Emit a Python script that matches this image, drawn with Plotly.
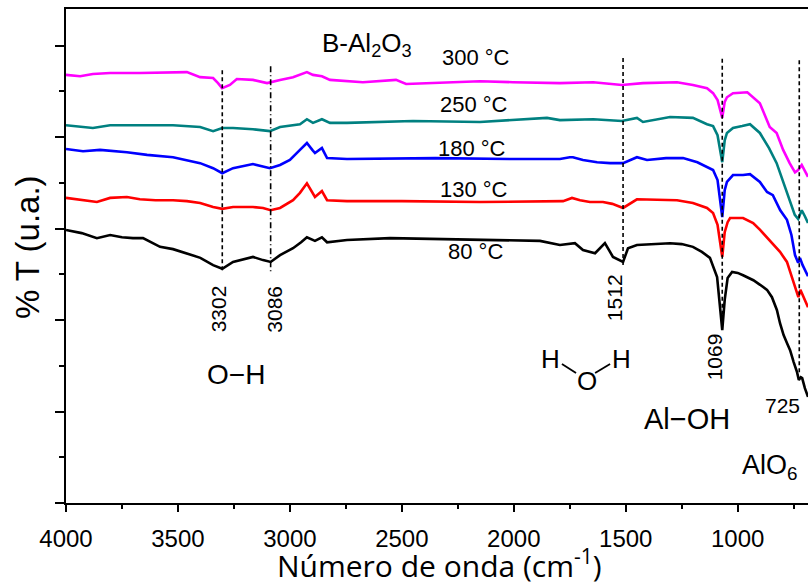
import plotly.graph_objects as go

# FTIR spectra of B-Al2O3 dried at different temperatures (offset, arbitrary units)
wn_80 = [4000, 3930, 3862, 3803, 3750, 3701, 3656, 3580, 3522, 3460, 3400, 3343, 3302, 3254, 3165,
         3120, 3086, 3044, 2986, 2950, 2924, 2888, 2857, 2834, 2745, 2553, 2350, 2151, 2000, 1883,
         1794, 1760, 1727, 1691, 1637, 1593, 1557, 1512, 1490, 1450, 1380, 1302, 1250, 1200, 1160,
         1124, 1092, 1069, 1058, 1045, 1025, 1000, 976, 930, 900, 869, 847, 825, 811, 795,
         780, 766, 750, 735, 727, 718, 712, 700, 686]
t_80 = [59.7, 59.0, 57.9, 58.6, 58.1, 57.9, 57.9, 56.0, 55.5, 54.6, 53.6, 52.0, 51.2, 52.7, 53.8,
        53.1, 52.7, 54.2, 55.7, 57.0, 58.1, 57.3, 58.1, 57.0, 57.5, 57.9, 57.7, 57.5, 57.5, 57.3,
        56.4, 56.6, 56.8, 55.3, 54.6, 56.8, 53.8, 52.7, 55.7, 56.4, 56.6, 56.8, 56.6, 56.0, 54.9,
        53.6, 49.4, 37.8, 44.4, 49.2, 50.5, 50.3, 49.8, 48.7, 47.7, 46.6, 45.0, 42.2, 39.3, 36.7,
        35.0, 33.4, 30.8, 28.6, 26.9, 27.5, 27.3, 25.1, 23.2]

wn_130 = [4000, 3930, 3862, 3803, 3728, 3670, 3600, 3522, 3460, 3401, 3343, 3302, 3254, 3165, 3120,
          3086, 3044, 2986, 2955, 2924, 2888, 2857, 2834, 2745, 2500, 2151, 1900, 1780, 1740, 1704,
          1660, 1602, 1560, 1512, 1450, 1350, 1271, 1200, 1137, 1110, 1090, 1069, 1058, 1045, 1034,
          976, 931, 900, 869, 826, 811, 780, 768, 744, 729, 720, 700, 686]
t_130 = [66.7, 66.2, 65.8, 66.7, 66.9, 66.4, 66.2, 66.2, 66.0, 65.6, 64.7, 64.3, 64.7, 64.7, 64.5,
         64.0, 64.5, 66.2, 67.8, 69.9, 66.9, 68.2, 66.2, 66.0, 66.0, 65.8, 66.0, 66.0, 66.7, 66.2,
         65.8, 65.8, 65.4, 64.5, 66.4, 66.2, 66.2, 65.6, 64.5, 63.4, 60.8, 53.8, 59.2, 61.4, 62.3,
         62.3, 61.2, 59.7, 58.1, 55.7, 54.9, 52.7, 50.9, 47.0, 45.0, 46.6, 44.4, 42.8]

wn_180 = [4000, 3924, 3848, 3728, 3638, 3522, 3401, 3343, 3302, 3254, 3165, 3089, 3044, 3000, 2955,
          2924, 2900, 2888, 2857, 2834, 2745, 2350, 2000, 1794, 1750, 1736, 1691, 1628, 1570, 1512,
          1450, 1405, 1320, 1244, 1180, 1137, 1110, 1090, 1069, 1058, 1048, 1021, 976, 945, 901,
          869, 843, 810, 780, 760, 744, 730, 722, 710, 700, 686]
t_180 = [77.4, 76.9, 77.2, 76.7, 76.1, 75.6, 74.3, 73.2, 72.1, 73.2, 74.1, 73.2, 73.9, 75.0, 77.2,
         78.7, 77.2, 76.5, 77.6, 75.4, 75.2, 75.4, 75.2, 75.2, 75.6, 75.6, 75.0, 74.5, 74.3, 74.3,
         75.6, 75.0, 75.4, 75.4, 74.5, 73.4, 72.8, 70.6, 62.5, 68.4, 70.2, 71.7, 71.7, 71.9, 70.2,
         68.0, 67.3, 64.0, 61.9, 58.6, 54.2, 52.5, 53.6, 52.0, 50.9, 49.6]

wn_250 = [4000, 3893, 3880, 3803, 3650, 3522, 3401, 3343, 3302, 3254, 3165, 3089, 3044, 2986, 2955,
          2924, 2897, 2857, 2821, 2745, 2450, 2151, 1852, 1794, 1645, 1517, 1450, 1423, 1302, 1200,
          1137, 1110, 1090, 1069, 1058, 1048, 1021, 980, 945, 901, 860, 826, 800, 768, 745,
          730, 714, 700, 686]
t_250 = [82.6, 82.2, 82.0, 82.6, 82.6, 82.6, 82.2, 81.3, 82.0, 82.0, 81.7, 81.3, 82.2, 82.6, 82.8,
         83.9, 83.1, 83.9, 83.1, 83.1, 83.5, 83.3, 84.2, 83.7, 83.9, 83.5, 84.2, 83.3, 84.4, 84.2,
         82.8, 82.4, 80.4, 74.5, 79.3, 80.9, 82.0, 82.4, 82.8, 80.9, 77.6, 74.3, 70.6, 66.2, 63.0,
         62.1, 64.0, 62.7, 61.2]

wn_300 = [4000, 3937, 3880, 3803, 3670, 3522, 3460, 3401, 3343, 3321, 3303, 3268, 3237, 3165, 3102,
          3044, 2986, 2924, 2897, 2857, 2821, 2674, 2526, 2481, 2299, 2151, 2004, 1794, 1645, 1517,
          1423, 1271, 1200, 1137, 1110, 1090, 1069, 1058, 1048, 1021, 957, 931, 901, 857, 826,
          797, 768, 744, 730, 714, 700, 686]
t_300 = [93.6, 93.3, 93.8, 94.0, 94.0, 94.2, 94.2, 93.1, 92.9, 91.8, 90.7, 91.4, 92.7, 92.5, 91.8,
         92.5, 93.1, 94.2, 93.6, 93.3, 92.5, 92.0, 92.5, 91.6, 92.0, 92.2, 92.0, 91.8, 92.0, 91.4,
         91.8, 92.0, 91.4, 90.7, 89.6, 88.1, 84.2, 87.7, 88.7, 89.6, 89.8, 88.7, 87.4, 82.2, 80.9,
         77.2, 74.3, 72.3, 72.8, 73.9, 72.6, 71.3]

series = [
    ("80 °C", wn_80, t_80, "#000000"),
    ("130 °C", wn_130, t_130, "#FF0000"),
    ("180 °C", wn_180, t_180, "#0000FF"),
    ("250 °C", wn_250, t_250, "#008080"),
    ("300 °C", wn_300, t_300, "#FF00FF"),
]

# temperature labels (wavenumber, height)
temp_label_x = [2169, 2178, 2187, 2178, 2169]
temp_label_y = [54.9, 68.6, 77.6, 87.2, 97.5]

# band markers
peak_wn = [3302, 3086, 1512, 1069, 725]
peak_top = [94.6, 95.5, 97.3, 97.1, 96.8]
peak_bottom = [50.5, 50.3, 51.4, 37.8, 28.0]
peak_dash = ["4px,3px", "6px,3px,1px,3px", "4px,3px", "4px,3px", "4px,3px"]
peak_label_y = [42.4, 42.4, 44.8, 31.9, 21.4]
peak_label_shift = [-4, 3, -9, -8, -17]
peak_label_angle = [-90, -90, -90, -90, 0]

# water molecule sketch
water_atoms = ["H", "O", "H"]
water_x = [1834, 1673, 1521]
water_y = [31.5, 26.7, 31.5]
bond_x = [1785, 1722, None, 1637, 1570]
bond_y = [30.4, 28.4, None, 28.4, 30.4]

FONT = "Liberation Sans, Arial, sans-serif"

fig = go.Figure()

for name, wn, t, color in series:
    fig.add_trace(go.Scatter(x=wn, y=t, mode="lines", name=name,
                             line=dict(color=color, width=2.6)))

for wn, top, bot, dash in zip(peak_wn, peak_top, peak_bottom, peak_dash):
    fig.add_trace(go.Scatter(x=[wn, wn], y=[top, bot], mode="lines",
                             line=dict(color="black", width=1.6, dash=dash),
                             hoverinfo="skip"))

fig.add_trace(go.Scatter(x=bond_x, y=bond_y, mode="lines",
                         line=dict(color="black", width=1.8), hoverinfo="skip"))

annotations = []
for (name, _, _, _), lx, ly in zip(series, temp_label_x, temp_label_y):
    annotations.append(dict(x=lx, y=ly, text=name, showarrow=False,
                            xanchor="center", yanchor="middle",
                            font=dict(family=FONT, size=22, color="black")))

for wn, ly, sh, ang in zip(peak_wn, peak_label_y, peak_label_shift, peak_label_angle):
    annotations.append(dict(x=wn, y=ly, text=str(wn), showarrow=False, xshift=sh,
                            xanchor="center", yanchor="middle",
                            textangle=ang, font=dict(family=FONT, size=21, color="black")))

for atom, ax, ay in zip(water_atoms, water_x, water_y):
    annotations.append(dict(x=ax, y=ay, text=atom, showarrow=False,
                            xanchor="center", yanchor="middle",
                            font=dict(family=FONT, size=26, color="black")))

annotations += [
    dict(x=2656, y=100.3, text="B-Al<sub>2</sub>O<sub>3</sub>", showarrow=False,
         xanchor="center", yanchor="middle",
         font=dict(family=FONT, size=26, color="black")),
    dict(x=3241, y=28.0, text="O−H", showarrow=False,
         xanchor="center", yanchor="middle",
         font=dict(family=FONT, size=28, color="black")),
    dict(x=1226, y=18.4, text="Al−OH", showarrow=False,
         xanchor="center", yanchor="middle",
         font=dict(family=FONT, size=29, color="black")),
    dict(x=856, y=7.9, text="AlO<sub>6</sub>", showarrow=False,
         xanchor="center", yanchor="middle",
         font=dict(family=FONT, size=27, color="black")),
    dict(x=-0.0526, y=0.518, xref="paper", yref="paper", text="% T (u.a.)",
         textangle=-90, showarrow=False, xanchor="center", yanchor="middle",
         font=dict(family=FONT, size=33, color="black")),
    dict(x=0.504, y=-0.124, xref="paper", yref="paper",
         text="Número de onda (cm<sup>-1</sup>)", showarrow=False,
         xanchor="center", yanchor="middle",
         font=dict(family="Open Sans, sans-serif", size=30, color="black")),
]

fig.update_layout(
    width=808, height=585,
    margin=dict(l=66, r=0, t=9, b=82),
    paper_bgcolor="white", plot_bgcolor="white",
    showlegend=False,
    font=dict(family=FONT, color="black"),
    annotations=annotations,
)

fig.update_xaxes(
    range=[4000, 686], tickmode="array",
    tickvals=[4000, 3500, 3000, 2500, 2000, 1500, 1000],
    ticks="outside", ticklen=7, tickwidth=1.5, tickcolor="black",
    minor=dict(dtick=250, tick0=4000, ticks="outside", ticklen=4, tickwidth=1.5, tickcolor="black"),
    showline=True, linewidth=2, linecolor="black", mirror=True,
    showgrid=False, zeroline=False, ticklabelstandoff=6,
    tickfont=dict(family=FONT, size=24, color="black"),
)
fig.update_yaxes(
    range=[0, 108], tick0=0, dtick=20,
    ticks="outside", ticklen=9, tickwidth=1.5, tickcolor="black",
    minor=dict(dtick=10, tick0=0, ticks="outside", ticklen=5, tickwidth=1.5, tickcolor="black"),
    showticklabels=False,
    showline=True, linewidth=2, linecolor="black",
    showgrid=False, zeroline=False,
)

fig.write_html("out.html")
